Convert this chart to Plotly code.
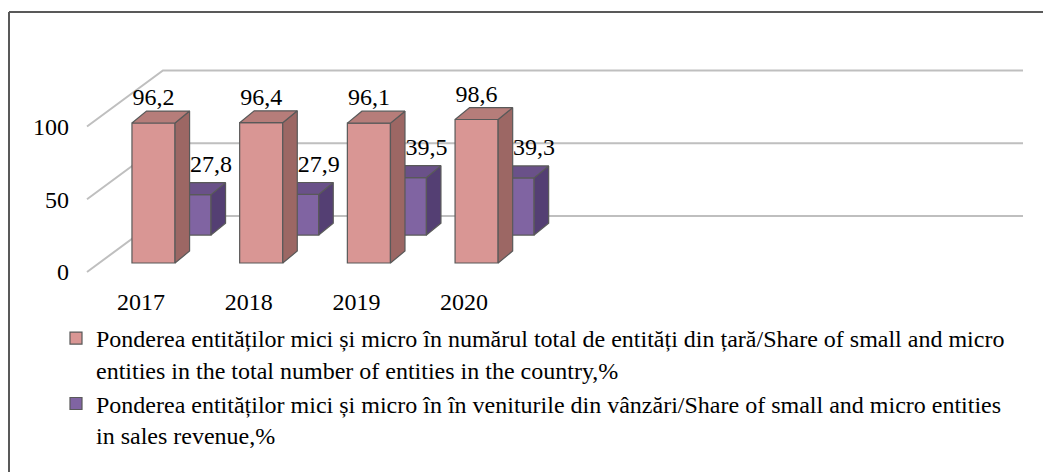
import plotly.graph_objects as go

years = ['2017', '2018', '2019', '2020']
share_entities = [96.2, 96.4, 96.1, 98.6]
share_revenue = [27.8, 27.9, 39.5, 39.3]
y_ticks = [0, 50, 100]

name_entities = ('Ponderea entităților mici și micro în numărul total de entități din țară/Share of small and micro'
                 '<br>entities in the total number of entities in the country,%')
name_revenue = ('Ponderea entităților mici și micro în în veniturile din vânzări/Share of small and micro entities'
                '<br>in sales revenue,%')

# ---- fake 3D geometry ----
# pixel numbers below are positions in the picture (page margin removed in post_script)
W, H = 1043, 472
PAD = 0
L, R, T, B = 70, 1030, 30, 285          # plot area in picture pixels
px_x = 107.7                             # pixels per category
px_y = 1.455                             # pixels per value unit
x0 = -(153.5 - L) / px_x
x_rng = [x0, x0 + (R - L) / px_x]
y_rng = [-(B - 272) / px_y, (272 - T) / px_y]

bw = 0.4                  # bar width
ddx, ddy = 0.135, 8.2     # depth of each box
wall_dx, wall_dy = 0.705, 38.5   # back wall offset from front plane
grid_x0 = (87 - 153.5) / px_x
grid_x1 = (1023 - 153.5) / px_x

rows = {
    'entities': dict(vals=share_entities, off=0.0, base=6.2, name=name_entities, rank=1,
                     front='#D99694', side='#9C6764', top='#B67D7A', ax=('x3', 'y3')),
    'revenue': dict(vals=share_revenue, off=0.334, base=25.4, name=name_revenue, rank=2,
                    front='#8064A2', side='#543F73', top='#6A5189', ax=('x2', 'y2')),
}
edge = '#595959'
font = 'Liberation Serif, Times New Roman, serif'

fig = go.Figure()

# perspective gridlines (base subplot, below everything)
gx, gy = [], []
for t in y_ticks:
    gx += [grid_x0, grid_x0 + wall_dx, grid_x1, None]
    gy += [t, t + wall_dy, t + wall_dy, None]
fig.add_trace(go.Scatter(x=gx, y=gy, mode='lines', line=dict(color='#BFBFBF', width=2),
                         showlegend=False, hoverinfo='skip'))


def add_row(r):
    xa, ya = r['ax']
    xs = [i + r['off'] for i in range(len(years))]
    fig.add_trace(go.Bar(x=xs, y=r['vals'], base=r['base'], width=bw, name=r['name'],
                         legendrank=r['rank'], legendgroup=r['name'],
                         marker=dict(color=r['front'], line=dict(color=edge, width=1.2)),
                         xaxis=xa, yaxis=ya, hoverinfo='skip'))
    sx, sy, tx, ty = [], [], [], []
    for xc, v in zip(xs, r['vals']):
        a, b = xc - bw / 2, xc + bw / 2
        lo, hi = r['base'], r['base'] + v
        sx += [b, b, b + ddx, b + ddx, b, None]
        sy += [lo, hi, hi + ddy, lo + ddy, lo, None]
        tx += [a, a + ddx, b + ddx, b, a, None]
        ty += [hi, hi + ddy, hi + ddy, hi, hi, None]
    fig.add_trace(go.Scatter(x=sx, y=sy, mode='lines', fill='toself', fillcolor=r['side'],
                             line=dict(color=edge, width=1.2), showlegend=False,
                             xaxis=xa, yaxis=ya, hoverinfo='skip'))
    fig.add_trace(go.Scatter(x=tx, y=ty, mode='lines', fill='toself', fillcolor=r['top'],
                             line=dict(color=edge, width=1.2), showlegend=False,
                             xaxis=xa, yaxis=ya, hoverinfo='skip'))


add_row(rows['revenue'])
add_row(rows['entities'])

# data labels, on top of everything
pe, pr = rows['entities'], rows['revenue']
fig.add_trace(go.Scatter(
    x=[i + pe['off'] for i in range(len(years))] + [i + pr['off'] + 0.2 for i in range(len(years))],
    y=[pe['base'] + v + 16.5 for v in pe['vals']] + [pr['base'] + v + 19.5 for v in pr['vals']],
    customdata=share_entities + share_revenue,
    mode='text', texttemplate='%{customdata:.1f}', textposition='middle center',
    textfont=dict(family=font, size=24, color='black'),
    showlegend=False, xaxis='x3', yaxis='y3', hoverinfo='skip'))

ax_common = dict(showgrid=False, zeroline=False, showline=False, fixedrange=True)
fig.update_layout(
    width=W, height=H,
    margin=dict(l=L - PAD, r=W - (R - PAD), t=T - PAD, b=H - (B - PAD), autoexpand=False),
    paper_bgcolor='white', plot_bgcolor='white',
    separators=', ',
    barmode='overlay',
    showlegend=True,
    xaxis=dict(range=x_rng, tickvals=[i - 0.116 for i in range(len(years))], ticktext=years,
               tickfont=dict(family=font, size=24, color='black'), ticks='', **ax_common),
    yaxis=dict(range=y_rng, tickvals=y_ticks, tickfont=dict(family=font, size=24, color='black'),
               ticks='', **ax_common),
    xaxis2=dict(range=x_rng, overlaying='x', anchor='y2', visible=False, **ax_common),
    yaxis2=dict(range=y_rng, overlaying='y', anchor='x2', visible=False, **ax_common),
    xaxis3=dict(range=x_rng, overlaying='x', anchor='y3', visible=False, **ax_common),
    yaxis3=dict(range=y_rng, overlaying='y', anchor='x3', visible=False, **ax_common),
    legend=dict(xref='container', yref='container', x=(56 - PAD) / W, y=1 - (316 - PAD) / H,
                xanchor='left', yanchor='top', valign='top', tracegroupgap=0,
                font=dict(family=font, size=24, color='black'), bgcolor='rgba(0,0,0,0)'),
)

# chart border: only its left and top edges fall inside the picture
bx = (9 - L) / (R - L)
by = (B - 12) / (B - T)
fig.add_shape(type='line', xref='paper', yref='paper', x0=bx, x1=bx, y0=-1.5, y1=by,
              line=dict(color='#595959', width=2), layer='above')
fig.add_shape(type='line', xref='paper', yref='paper', x0=bx, x1=1.5, y0=by, y1=by,
              line=dict(color='#595959', width=2), layer='above')

fig.write_html('out.html', config={'displayModeBar': False},
               post_script="document.body.style.margin='0';document.body.style.overflow='hidden';")
